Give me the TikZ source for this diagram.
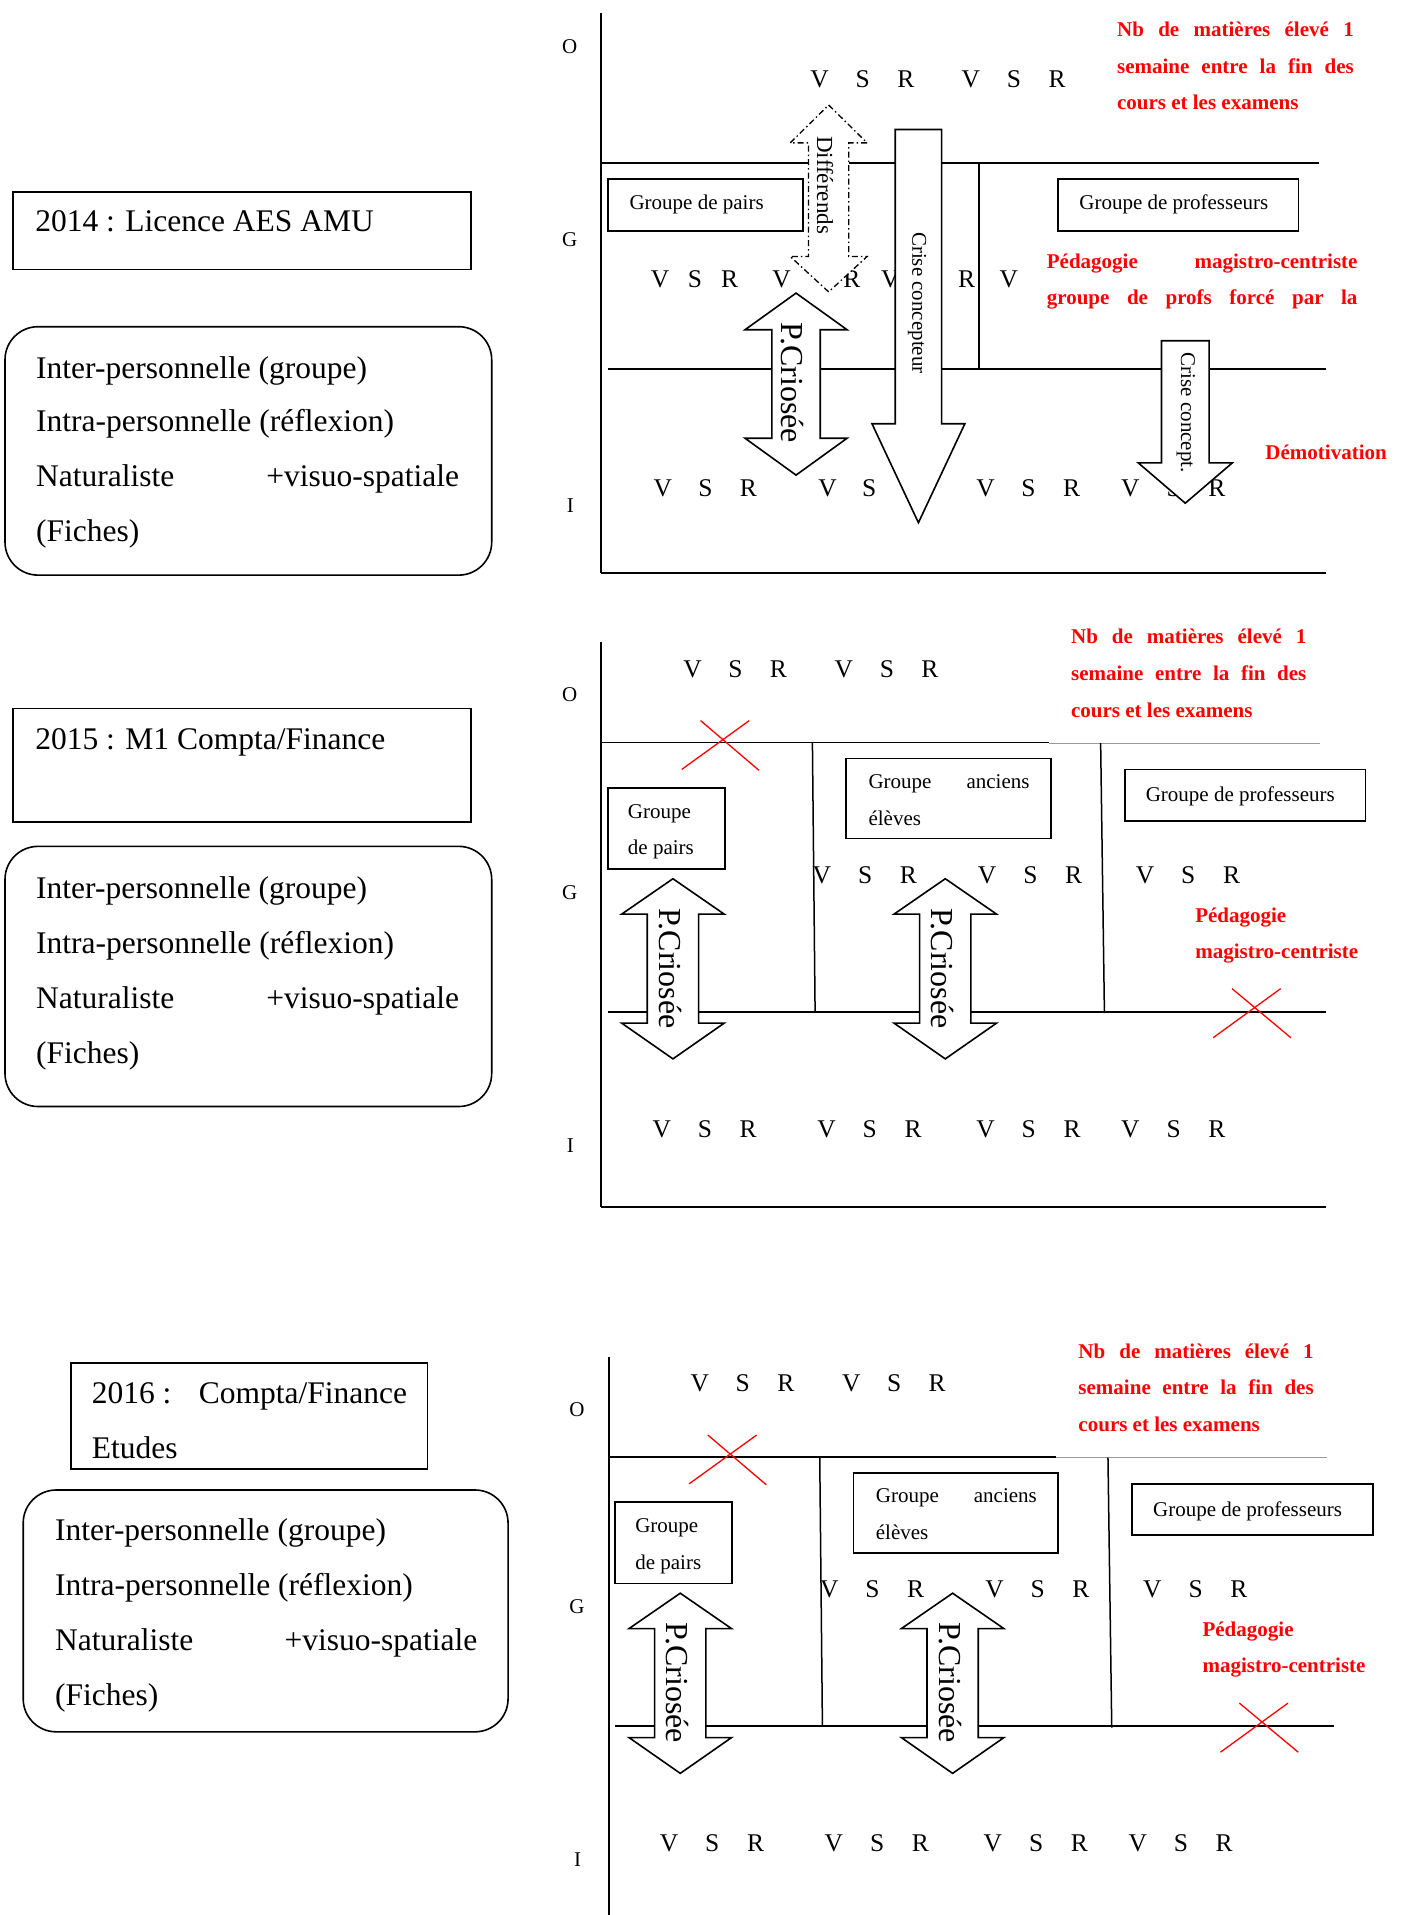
\documentclass[tikz,border=0pt]{standalone}
\usepackage{fontspec}
\setmainfont{Liberation Serif}
\newcommand\ltr[4]{\node[lt] (#1) at (#2,#3) {#4};}
\newcommand\vsr[4]{\ltr{#1v}{#2}{#3}{V}\ltr{#1s}{#2+#4}{#3}{S}\ltr{#1r}{#2+2*#4}{#3}{R}}
\newcommand\dbarrow[8]{\draw[#1] (#2,#3) -- ({#2+#7},#4) -- ({#2+#8},#4) -- ({#2+#8},#5) -- ({#2+#7},#5) -- (#2,#6) -- ({#2-#7},#5) -- ({#2-#8},#5) -- ({#2-#8},#4) -- ({#2-#7},#4) -- cycle;}
\newcommand\dnarrow[7]{\draw[#1] ({#2-#7},#3) -- ({#2+#7},#3) -- ({#2+#7},#4) -- ({#2+#6},#4) -- (#2,#5) -- ({#2-#6},#4) -- ({#2-#7},#4) -- cycle;}
\newcommand\paneltwo[1]{%
\draw[ln] (492.4,608) -- (859,608);
\draw[gl] (859,608.5) -- (1080.5,608.5);
\draw[vln] (665.2,608) -- (667.4,828.4);
\draw[vln] (901.2,608.5) -- (904.3,829.5);
\draw[ln] (497.5,828.4) -- (1086,828.4);
\node[axl] (#1o) at (466.5,574.6) {O};
\node[axl] (#1g) at (466.5,736.2) {G};
\node[axl] (#1i) at (467,943.3) {I};
\draw[box] (497.5,645) rectangle (593.6,711.6);
\node[gt] (#1gpa) at (514,670) {Groupe};
\node[gt] (#1gpb) at (514,700) {de pairs};
\draw[box] (692.8,621) rectangle (860.4,686.5);
\node[gt] (#1gaa) at (711,645.5) {\makebox[161pt][s]{Groupe anciens}};
\node[gt] (#1gab) at (711,675.6) {élèves};
\draw[box] (921.1,630) rectangle (1118,672.1);
\node[gt] (#1gpr) at (938,656.5) {Groupe de professeurs};
\node[rt] (#1nba) at (876.9,527) {\makebox[235.2pt][s]{Nb de matières élevé 1}};
\node[rt] (#1nbb) at (876.9,557) {\makebox[235.2pt][s]{semaine entre la fin des}};
\node[rt] (#1nbc) at (876.9,587.5) {cours et les examens};
\node[rt] (#1peda) at (978.5,755) {Pédagogie};
\node[rt] (#1pedb) at (978.5,784.5) {magistro-centriste};
\draw[xr] (558.2,630) -- (613.5,590); \draw[xr] (573.6,590) -- (621.4,630.7);
\draw[xr] (993.3,849.7) -- (1048.6,809.5); \draw[xr] (1008.8,809.5) -- (1057,849.7);
\vsr{#1ta}{567}{554.5}{35.2}\vsr{#1tb}{691}{554.5}{35.2}
\vsr{#1ga}{673}{723}{35.4}\vsr{#1gb}{808.3}{723}{35.4}\vsr{#1gc}{937.6}{723}{35.4}
\vsr{#1ia}{541.8}{931}{35.4}\vsr{#1ib}{676.8}{931}{35.4}\vsr{#1ic}{807}{931}{35.4}\vsr{#1id}{925.6}{931}{35.4}
\dbarrow{arr}{551}{719.5}{748.5}{837.7}{867}{42}{21}
\node[rot,font=\fontsize{32}{36}\selectfont] (#1pca) at (549,793) {P.Criosée};
\dbarrow{arr}{774}{719.5}{748.5}{837.7}{867}{42}{21}
\node[rot,font=\fontsize{32}{36}\selectfont] (#1pcb) at (772,793) {P.Criosée};
}
\begin{document}
\begin{tikzpicture}[x=1.2212pt,y=-1.2212pt,
 ln/.style={line width=1.8pt},
 vln/.style={line width=1.5pt},
 gl/.style={line width=1pt,black!40},
 box/.style={draw,line width=1.8pt,fill=white},
 rbox/.style={draw,line width=1.6pt,rounded corners=33pt},
 lt/.style={font=\fontsize{25.5}{29}\selectfont,anchor=base,inner sep=0pt},
 axl/.style={font=\fontsize{21}{25}\selectfont,anchor=base,inner sep=0pt},
 gt/.style={font=\fontsize{21}{25}\selectfont,anchor=base west,inner sep=0pt},
 rt/.style={font=\bfseries\fontsize{21}{25}\selectfont,text=red,anchor=base west,inner sep=0pt},
 bt/.style={font=\fontsize{31.5}{36}\selectfont,anchor=base west,inner sep=0pt},
 bte/.style={font=\fontsize{31.5}{36}\selectfont,anchor=base east,inner sep=0pt},
 arr/.style={draw,line width=1.6pt,fill=white,line join=miter},
 darr/.style={draw,line width=1.3pt,fill=white,dash pattern=on 6pt off 3pt on 1.5pt off 3pt},
 xr/.style={draw=red,line width=1.3pt},
 rot/.style={rotate=-90,inner sep=0pt,anchor=center}]
\fill[white] (0,0) rectangle (1153,1568);
\useasboundingbox (0,0) rectangle (1153,1568);

% ---------- left column ----------
\draw[line width=1.6pt] (10.4,157) rectangle (385.7,220.5);
\node[bt] (t14) at (28.7,189.7) {2014 : Licence AES AMU};
\draw[rbox] (4.1,267.5) rectangle (402.6,470.9);
\node[bt] (a1) at (29.5,309.8) {Inter-personnelle (groupe)};
\node[bt] (a2) at (29.5,353.5) {Intra-personnelle (réflexion)};
\node[bt] (a3) at (29.5,398.5) {Naturaliste};
\node[bte] (a4) at (376.1,398.5) {+visuo-spatiale};
\node[bt] (a5) at (29.5,443.5) {(Fiches)};

\draw[line width=1.6pt] (10.4,580) rectangle (385.7,673);
\node[bt] (t15) at (28.7,613.5) {2015 : M1 Compta/Finance};
\draw[rbox] (4.1,693) rectangle (402.6,906);
\node[bt] (b1) at (29.5,735.5) {Inter-personnelle (groupe)};
\node[bt] (b2) at (29.5,780.5) {Intra-personnelle (réflexion)};
\node[bt] (b3) at (29.5,825.5) {Naturaliste};
\node[bte] (b4) at (376.1,825.5) {+visuo-spatiale};
\node[bt] (b5) at (29.5,870.5) {(Fiches)};

\draw[line width=1.6pt] (58,1116) rectangle (350,1203);
\node[bt] (t16a) at (75,1149.5) {2016 :};
\node[bte] (t16b) at (333.5,1149.5) {Compta/Finance};
\node[bt] (t16c) at (75,1194.5) {Etudes};
\draw[rbox] (19,1220) rectangle (416,1418);
\node[bt] (c1) at (45,1261.5) {Inter-personnelle (groupe)};
\node[bt] (c2) at (45,1306.5) {Intra-personnelle (réflexion)};
\node[bt] (c3) at (45,1351.5) {Naturaliste};
\node[bte] (c4) at (391,1351.5) {+visuo-spatiale};
\node[bt] (c5) at (45,1396.5) {(Fiches)};

% ---------- panel 1 ----------
\draw[ln] (492.4,10.5) -- (492.4,469);
\draw[ln] (492.4,469) -- (1086,469);
\draw[ln] (492.4,133.4) -- (1080,133.4);
\draw[ln] (497.5,302) -- (1086,302);
\draw[vln] (801.7,133.4) -- (801.7,302);
\node[axl] (o1) at (466.5,44) {O};
\node[axl] (g1) at (466.5,201.7) {G};
\node[axl] (i1) at (467,419.7) {I};
\draw[box] (498.1,146.8) rectangle (657.3,188.9);
\node[gt] (gp1) at (515.3,171.4) {Groupe de pairs};
\draw[box] (866.2,146.8) rectangle (1063.2,188.9);
\node[gt] (gprof1) at (883.6,171.4) {Groupe de professeurs};
\node[rt] (nb1a) at (914.5,30) {\makebox[236.7pt][s]{Nb de matières élevé 1}};
\node[rt] (nb1b) at (914.5,60) {\makebox[236.7pt][s]{semaine entre la fin des}};
\node[rt] (nb1c) at (914.5,90) {cours et les examens};
\node[rt] (ped1a) at (857,219.5) {\makebox[310.6pt][s]{Pédagogie magistro-centriste}};
\node[rt] (ped1b) at (857,249) {\makebox[310.6pt][s]{groupe de profs forcé par la}};
\node[rt] (dem1) at (1036,376) {Démotivation};
\vsr{p1ta}{671.1}{72}{35.3}\vsr{p1tb}{795}{72}{35.3}
\vsr{p1ga}{540.5}{235}{28.5}
\ltr{p1gd}{640}{235}{V}\ltr{p1ge}{697.6}{235}{R}\ltr{p1gf}{729}{235}{V}
\ltr{p1gg}{791.5}{235}{R}\ltr{p1gh}{826}{235}{V}
\vsr{p1ia}{542.7}{406.5}{35}
\ltr{p1ib}{677.7}{406.5}{V}\ltr{p1ic}{711.7}{406.5}{S}
\vsr{p1id}{807}{406.5}{35.2}
\ltr{p1ie}{925.5}{406.5}{V}\ltr{p1if}{961}{406.5}{S}\ltr{p1ig}{996.4}{406.5}{R}
\dbarrow{arr}{651.8}{240}{270}{358.8}{389}{41.8}{19.8}
\node[rot,font=\fontsize{32}{36}\selectfont] (pc1) at (649,313.5) {P.Criosée};
\dbarrow{darr}{678.5}{86}{117}{210}{239}{31.5}{16.5}
\node[rot,font=\fontsize{23}{27}\selectfont] (dif1) at (675.6,151.5) {Différends};
\dnarrow{arr}{752}{106}{347}{428}{38}{19}
\node[rot,font=\fontsize{21}{25}\selectfont] (cc1) at (751,248) {Crise concepteur};
\dnarrow{arr}{970.5}{279}{379}{412}{38.5}{19.5}
\node[rot,font=\fontsize{21}{25}\selectfont] (cc2) at (971,338) {Crise concept.};

% ---------- panel 2 ----------
\draw[ln] (492.4,525.7) -- (492.4,988.4);
\draw[ln] (492.4,988.4) -- (1086,988.4);
\paneltwo{p2}

% ---------- panel 3 ----------
\draw[ln] (498.4,1111) -- (498.4,1568);
\begin{scope}[shift={(6,585)}]
\paneltwo{p3}
\end{scope}
\end{tikzpicture}
\end{document}
